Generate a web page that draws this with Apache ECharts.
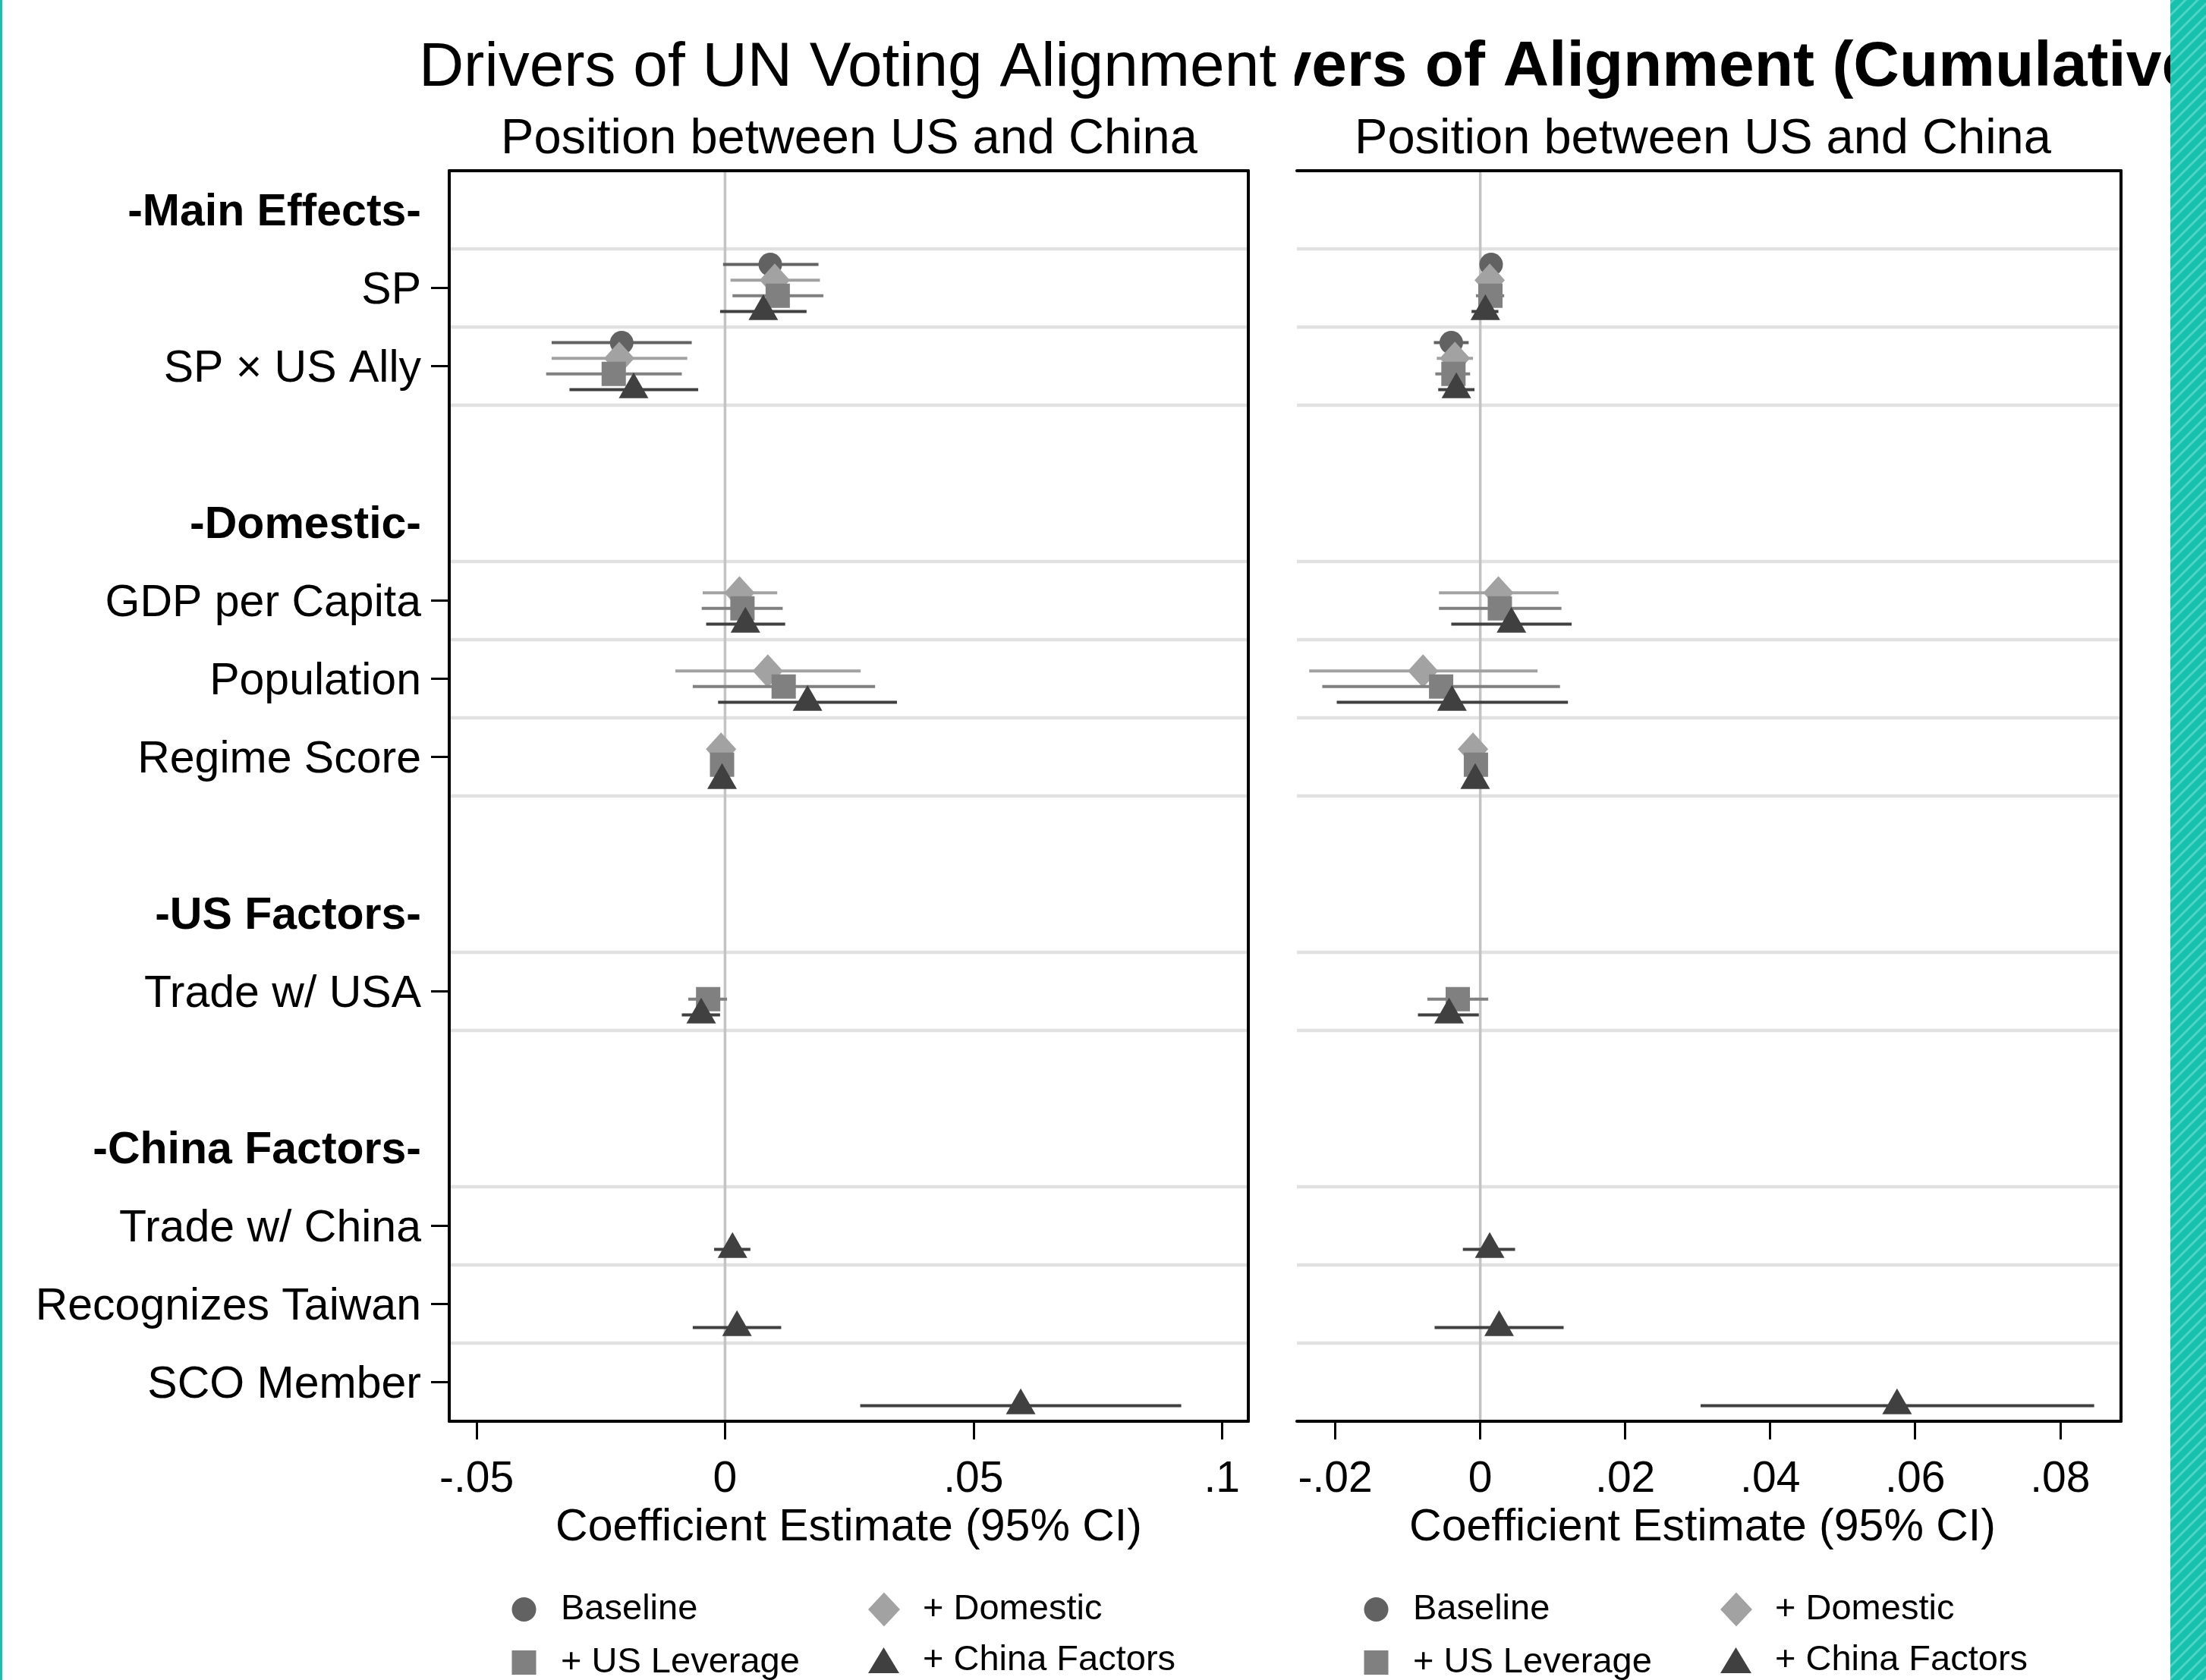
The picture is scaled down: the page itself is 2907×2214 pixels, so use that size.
<!DOCTYPE html>
<html><head><meta charset="utf-8">
<script src="https://cdn.jsdelivr.net/npm/echarts@6/dist/echarts.min.js"></script>
<style>html,body{margin:0;padding:0;background:#fff}#c{width:2907px;height:2214px}</style>
</head><body><div id="c"></div>
<script>
// ---------- data ----------
const rows = ['-Main Effects-','SP','SP × US Ally',' ','-Domestic-','GDP per Capita','Population','Regime Score','  ','-US Factors-','Trade w/ USA','   ','-China Factors-','Trade w/ China','Recognizes Taiwan','SCO Member'];
const headers = ['-Main Effects-','-Domestic-','-US Factors-','-China Factors-'];
const variables = ['SP','SP × US Ally','GDP per Capita','Population','Regime Score','Trade w/ USA','Trade w/ China','Recognizes Taiwan','SCO Member'];
const models = ['Baseline','+ Domestic','+ US Leverage','+ China Factors'];

// [estimate, lower 95%, upper 95%] per variable (same order as `variables`)
const leftBaseline = [[0.0091,-0.0004,0.0188],[-0.0208,-0.0349,-0.0067],null,null,null,null,null,null,null];
const leftDomestic = [[0.0100,0.0011,0.0191],[-0.0213,-0.0349,-0.0076],[0.0029,-0.0045,0.0105],[0.0086,-0.0100,0.0273],[-0.0008,-0.0015,-0.0001],null,null,null,null];
const leftUSLeverage = [[0.0106,0.0015,0.0198],[-0.0224,-0.0360,-0.0087],[0.0035,-0.0047,0.0116],[0.0118,-0.0065,0.0302],[-0.0006,-0.0013,0.0001],[-0.0034,-0.0074,0.0004],null,null,null];
const leftChina = [[0.0077,-0.0010,0.0164],[-0.0184,-0.0313,-0.0054],[0.0041,-0.0038,0.0121],[0.0166,-0.0014,0.0346],[-0.0006,-0.0013,0.0001],[-0.0048,-0.0087,-0.0010],[0.0015,-0.0022,0.0051],[0.0024,-0.0065,0.0113],[0.0595,0.0272,0.0918]];

const rightBaseline = [[0.0015,0.0005,0.0026],[-0.0040,-0.0064,-0.0016],null,null,null,null,null,null,null];
const rightDomestic = [[0.0013,0.0003,0.0023],[-0.0035,-0.0060,-0.0010],[0.0025,-0.0057,0.0108],[-0.0079,-0.0236,0.0079],[-0.0010,-0.0018,-0.0002],null,null,null,null];
const rightUSLeverage = [[0.0014,-0.0006,0.0033],[-0.0037,-0.0062,-0.0014],[0.0027,-0.0057,0.0112],[-0.0054,-0.0218,0.0110],[-0.0006,-0.0014,0.0002],[-0.0031,-0.0073,0.0011],null,null,null];
const rightChina = [[0.0007,-0.0012,0.0025],[-0.0033,-0.0058,-0.0008],[0.0043,-0.0040,0.0126],[-0.0039,-0.0198,0.0121],[-0.0007,-0.0015,0.0001],[-0.0043,-0.0086,-0.0002],[0.0013,-0.0024,0.0048],[0.0026,-0.0063,0.0115],[0.0575,0.0304,0.0847]];

const leftTicks = [-0.05, 0, 0.05, 0.1];
const rightTicks = [-0.02, 0, 0.02, 0.04, 0.06, 0.08];
const mainTitleLeft = 'Drivers of UN Voting Alignment';
const mainTitleRight = 'Drivers of Alignment (Cumulative)';
const panelTitle = 'Position between US and China';
const axisTitle = 'Coefficient Estimate (95% CI)';

// ---------- styling / layout ----------
const FONT = "'Liberation Sans', Arial, Helvetica, sans-serif";
const modelColors = ['#626262','#a2a2a2','#808080','#404040'];
const modelSymbols = ['circle','diamond','rect','triangle'];
const modelSizes = [31,[40,44],32,[39,34]];
const modelSymOffset = [[0,0],[0,0],[0,0],[0,-5.7]];
const modelOffsets = [-0.3,-0.1,0.1,0.3];
const panels = [
  {grid:{left:592, top:225, width:1053, height:1648}, min:-0.0555, max:0.1053, ticks:leftTicks,
   data:[leftBaseline,leftDomestic,leftUSLeverage,leftChina], center:1119},
  {grid:{left:1709, top:225, width:1086, height:1648}, min:-0.0253, max:0.0884, ticks:rightTicks,
   data:[rightBaseline,rightDomestic,rightUSLeverage,rightChina], center:2244}
];

function fmtTick(v){
  if (Math.abs(v) < 1e-12) return '0';
  return String(+v.toFixed(4)).replace('0.', '.');
}

const xAxes = [], yAxes = [], series = [];
const boundaries = [];
for (let b = 1; b < rows.length; b++) {
  if (variables.includes(rows[b-1]) || variables.includes(rows[b])) boundaries.push([0, b]);
}

panels.forEach((p, pi) => {
  const xb = xAxes.length;
  xAxes.push({
    type:'value', gridIndex:pi, min:p.min, max:p.max, position:'bottom', z:10,
    axisLine:{show:true, onZero:false, lineStyle:{color:'#000', width:4}},
    axisTick:{show:true, customValues:p.ticks, length:24, lineStyle:{color:'#000', width:3}},
    axisLabel:{show:true, customValues:p.ticks, formatter:fmtTick, fontSize:57, fontFamily:FONT, color:'#000', margin:49},
    splitLine:{show:false},
    name:axisTitle, nameLocation:'middle', nameGap:97,
    nameTextStyle:{fontSize:59, fontFamily:FONT, color:'#000', padding: pi === 1 ? [0,17,0,0] : 0}
  });
  xAxes.push({
    type:'value', gridIndex:pi, min:p.min, max:p.max, position:'top', z:10,
    axisLine:{show:true, onZero:false, lineStyle:{color:'#000', width:4}},
    axisTick:{show:false}, axisLabel:{show:false}, splitLine:{show:false}
  });
  if (pi === 0) {
    yAxes.push({
      type:'category', gridIndex:0, data:rows, inverse:true, position:'left', z:10,
      axisLine:{show:true, onZero:false, lineStyle:{color:'#000', width:4}},
      axisTick:{show:true, alignWithLabel:true, length:24, interval:(i, v) => variables.includes(v), lineStyle:{color:'#000', width:3}},
      axisLabel:{show:true, interval:0, margin:37, fontSize:59, fontFamily:FONT, color:'#000', padding:[9,0,0,0],
        formatter:(v) => headers.includes(v) ? '{h|' + v + '}' : v,
        rich:{h:{fontWeight:'bold', fontSize:59, fontFamily:FONT, color:'#000'}}},
      splitLine:{show:false}
    });
  }
  const yv = yAxes.length;
  yAxes.push({
    type:'value', gridIndex:pi, min:0, max:rows.length, inverse:true, position:'right', z:10,
    axisLine:{show:true, onZero:false, lineStyle:{color:'#000', width:4}},
    axisTick:{show:false}, axisLabel:{show:false}, splitLine:{show:false}
  });

  // row separator lines
  series.push({
    type:'custom', name:'rowlines'+pi, xAxisIndex:xb, yAxisIndex:yv, z:1, silent:true,
    encode:{x:0, y:1}, data:boundaries,
    renderItem:(params, api) => {
      const cs = params.coordSys;
      const y = api.coord([0, api.value(1)])[1];
      return {type:'line', shape:{x1:cs.x, y1:y, x2:cs.x+cs.width, y2:y}, style:{stroke:'#e1e1e1', lineWidth:4.5}};
    }
  });
  // zero reference line
  series.push({
    type:'custom', name:'zero'+pi, xAxisIndex:xb, yAxisIndex:yv, z:2, silent:true,
    encode:{x:0, y:1}, data:[[0, 0]],
    renderItem:(params, api) => {
      const cs = params.coordSys;
      const x = api.coord([api.value(0), 0])[0];
      return {type:'line', shape:{x1:x, y1:cs.y, x2:x, y2:cs.y+cs.height}, style:{stroke:'#c3c3c3', lineWidth:3.5}};
    }
  });

  models.forEach((m, mi) => {
    const ci = [], pts = [];
    p.data[mi].forEach((d, vi) => {
      if (!d) return;
      const y = rows.indexOf(variables[vi]) + 0.5 + modelOffsets[mi];
      ci.push([d[1], d[2], y]);
      pts.push([d[0], y]);
    });
    const col = modelColors[mi];
    series.push({
      type:'custom', name:m+' CI '+pi, xAxisIndex:xb, yAxisIndex:yv, z:3+mi*2, silent:true,
      encode:{x:[0,1], y:2}, data:ci,
      renderItem:(params, api) => {
        const y = api.value(2);
        const a = api.coord([api.value(0), y]);
        const b = api.coord([api.value(1), y]);
        return {type:'line', shape:{x1:a[0], y1:a[1], x2:b[0], y2:b[1]}, style:{stroke:col, lineWidth:4}};
      }
    });
    series.push({
      type:'scatter', name:m, xAxisIndex:xb, yAxisIndex:yv, z:4+mi*2, silent:true,
      symbol:modelSymbols[mi], symbolSize:modelSizes[mi], symbolOffset:modelSymOffset[mi],
      itemStyle:{color:col, opacity:1}, data:pts
    });
  });
});

// legends (one per item so that the 2x2 block matches)
const LFS = 47;
const legendItems = [
  {name:'Baseline', icon:'circle', cx:690.5, cy:2121, w:32, h:32, tx:739},
  {name:'+ Domestic', icon:'diamond', cx:1165, cy:2121, w:42, h:45, tx:1216},
  {name:'+ US Leverage', icon:'rect', cx:690.5, cy:2191, w:32, h:32, tx:739},
  {name:'+ China Factors', icon:'triangle', cx:1164.5, cy:2188, w:41, h:34, tx:1216}
];
const legends = [];
[0, 1123].forEach(dx => {
  legendItems.forEach(it => {
    const cx = it.cx + dx, tx = it.tx + dx;
    const topOff = Math.min(0, it.h/2 - LFS/2);
    legends.push({
      show:true, left:cx - it.w/2, top:it.cy - it.h/2 + topOff, padding:0,
      itemWidth:it.w, itemHeight:it.h, itemGap:0, selectedMode:false, orient:'horizontal',
      data:[{name:it.name, icon:it.icon}],
      textStyle:{fontSize:LFS, fontFamily:FONT, color:'#000', padding:[0,0,0, tx - (cx + it.w/2) - 5]}
    });
  });
});

// teal striped border pattern
const pc = document.createElement('canvas');
pc.width = 16; pc.height = 16;
const g = pc.getContext('2d');
g.fillStyle = '#18c0ae'; g.fillRect(0,0,16,16);
g.strokeStyle = '#4fd4c8'; g.lineWidth = 3;
[[-8,8,8,-8],[0,16,16,0],[8,24,24,8]].forEach(l => { g.beginPath(); g.moveTo(l[0],l[1]); g.lineTo(l[2],l[3]); g.stroke(); });

const graphic = [
  {type:'text', x:2244, y:90, z:1, style:{text:mainTitleRight, font:'bold 84px ' + FONT, fill:'#000', align:'center', textAlign:'center', verticalAlign:'middle', textVerticalAlign:'middle'}},
  {type:'rect', z:2, shape:{x:0, y:15, width:1706, height:128}, style:{fill:'#fff'}},
  {type:'text', x:1117, y:90, z:3, style:{text:mainTitleLeft, font:'82px ' + FONT, fill:'#000', align:'center', textAlign:'center', verticalAlign:'middle', textVerticalAlign:'middle'}},
  {type:'text', x:panels[0].center, y:184, z:3, style:{text:panelTitle, font:'65px ' + FONT, fill:'#000', align:'center', textAlign:'center', verticalAlign:'middle', textVerticalAlign:'middle'}},
  {type:'text', x:panels[1].center, y:184, z:3, style:{text:panelTitle, font:'65px ' + FONT, fill:'#000', align:'center', textAlign:'center', verticalAlign:'middle', textVerticalAlign:'middle'}},
  {type:'rect', z:20, shape:{x:2860, y:0, width:47, height:2214}, style:{fill:{image:pc, repeat:'repeat'}}},
  {type:'rect', z:20, shape:{x:0, y:0, width:3, height:2214}, style:{fill:'#18c0ae'}}
];

const chart = echarts.init(document.getElementById('c'), null, {renderer:'canvas'});
chart.setOption({
  animation:false,
  backgroundColor:'#fff',
  textStyle:{fontFamily:FONT},
  grid:panels.map(p => Object.assign({containLabel:false}, p.grid)),
  xAxis:xAxes, yAxis:yAxes, series:series, legend:legends, graphic:graphic
});
</script></body></html>
